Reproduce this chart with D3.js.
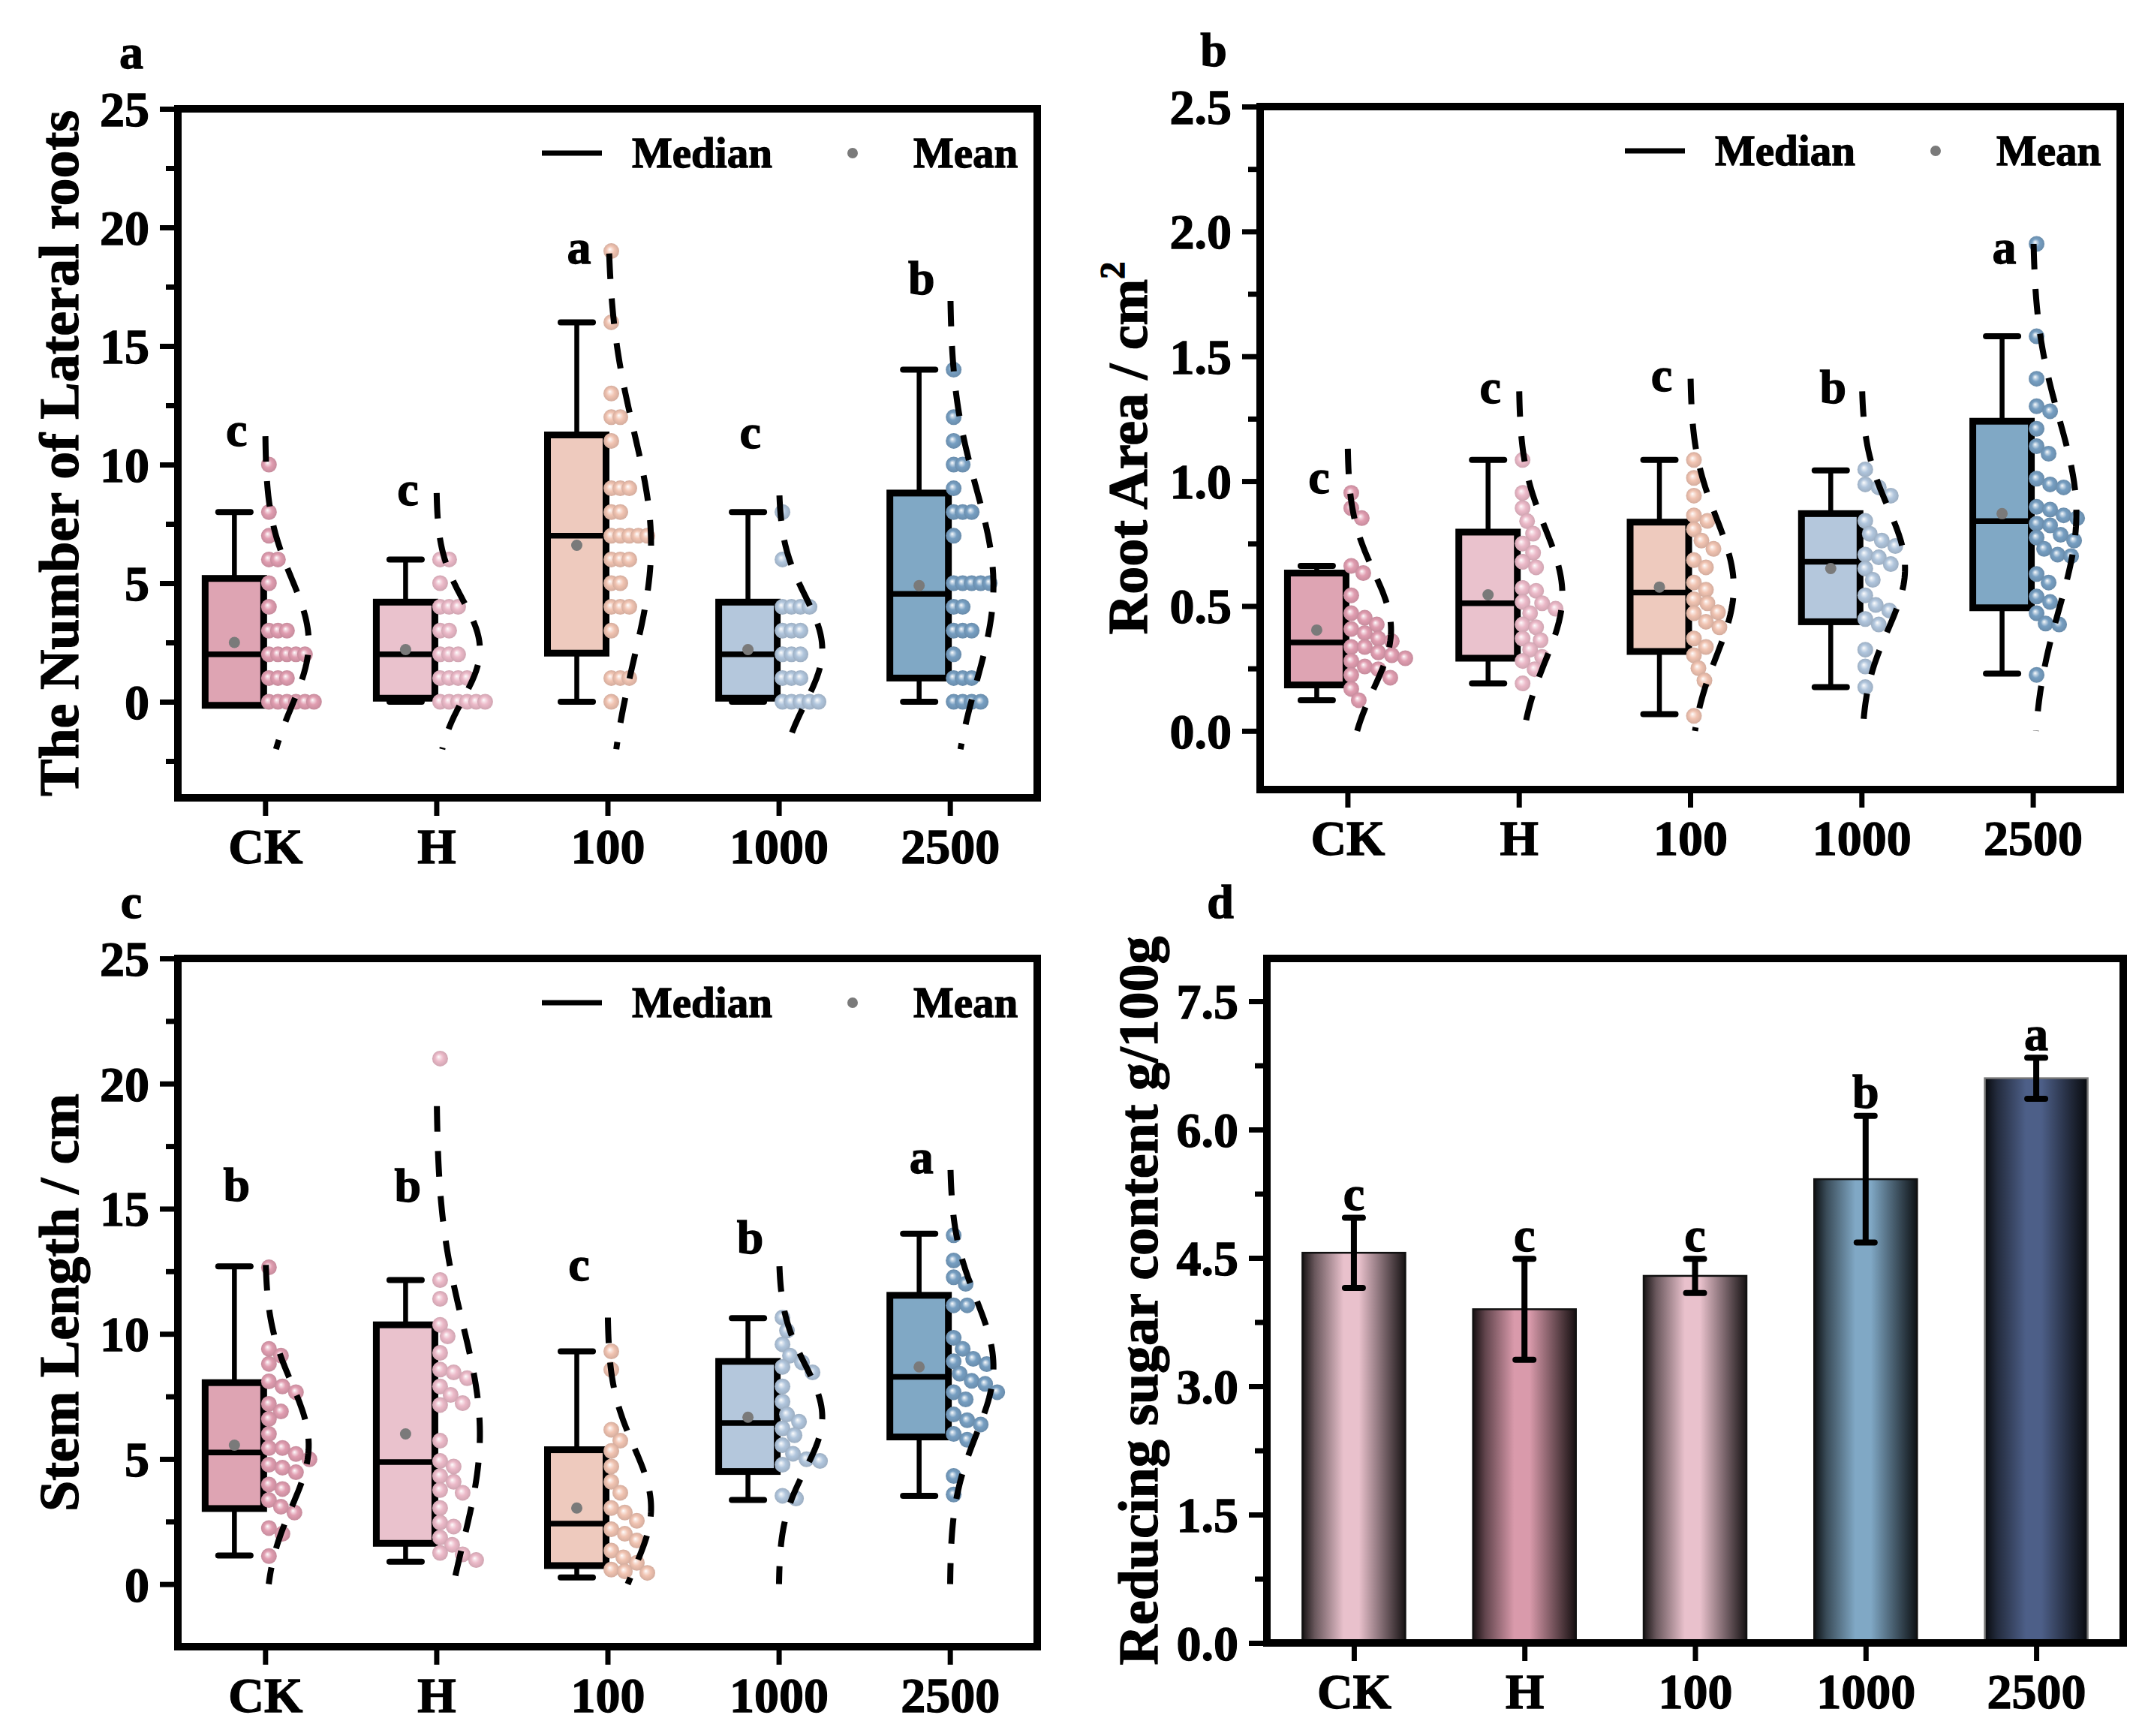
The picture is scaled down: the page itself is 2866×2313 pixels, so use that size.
<!DOCTYPE html>
<html>
<head>
<meta charset="utf-8">
<script src="https://cdn.jsdelivr.net/npm/d3@7"></script>
<style>
  body { margin: 0; background: #fff; }
  text { font-family: "Liberation Serif", "Times New Roman", serif; font-weight: bold; fill: #000;
         stroke: #000; stroke-width: 1.3px; }
</style>
</head>
<body>
<script>
const groups = ["CK", "H", "100", "1000", "2500"];
const boxColors = ["#dea4b3", "#eac2cd", "#eecabe", "#b4c7dc", "#80a8c5"];
const dotColors = ["#e19eb1", "#ecbac9", "#f1c4b2", "#b1c6dd", "#779fc2"];
const barColors = ["#e9c1cc", "#d99aab", "#e9c1cc", "#80a8c5", "#4d5f88"];

// a: number of lateral roots
const lateralPoints = [
  [10, 8, 7, 6, 6, 5, 4, 3, 3, 3, 2, 2, 2, 2, 2, 1, 1, 1, 0, 0, 0, 0, 0, 0],
  [6, 6, 5, 4, 4, 4, 3, 3, 2, 2, 2, 1, 1, 1, 1, 0, 0, 0, 0, 0, 0],
  [19, 16, 13, 12, 12, 11, 9, 9, 9, 8, 8, 7, 7, 7, 7, 7, 6, 6, 6, 5, 5, 4, 4, 4, 3, 1, 1, 1, 0],
  [8, 6, 4, 4, 4, 4, 3, 3, 3, 2, 2, 2, 1, 1, 1, 0, 0, 0, 0, 0],
  [14, 12, 11, 10, 10, 9, 8, 8, 8, 7, 5, 5, 5, 5, 5, 4, 4, 3, 3, 3, 2, 1, 1, 1, 0, 0, 0, 0]
];
// [whisker low, q1, median, q3, whisker high, mean]
const lateralStats = [
  [0, -0.15, 2, 5.2, 8, 2.5],
  [0, 0.15, 2, 4.2, 6, 2.2],
  [0, 2.05, 7, 11.25, 16, 6.6],
  [0, 0.15, 2, 4.2, 8, 2.2],
  [0, 1.0, 4.55, 8.8, 14, 4.9]
];
// normal curve [sd, low end, high end]
const lateralCurve = [[2.7, -2, 11.2], [2.1, -2, 8.8], [4.8, -2, 18.9], [2.27, -2, 8.7], [4.1, -2, 16.9]];
const lateralLetters = ["c", "c", "a", "c", "b"];
const lateralLetterY = [11.4, 8.9, 19.1, 11.3, 17.8];

// b: root area
const areaPoints = [
  [0.953, 0.892, 0.852, 0.661, 0.632, 0.543, 0.471, 0.453, 0.426, 0.408, 0.392, 0.37, 0.359, 0.336, 0.336,
   0.314, 0.303, 0.291, 0.28, 0.258, 0.247, 0.224, 0.213, 0.168, 0.123],
  [1.085, 0.953, 0.892, 0.84, 0.79, 0.75, 0.713, 0.677, 0.655, 0.572, 0.561, 0.516, 0.511, 0.489, 0.471,
   0.426, 0.415, 0.37, 0.363, 0.325, 0.296, 0.28, 0.247, 0.19],
  [1.085, 1.013, 0.942, 0.863, 0.841, 0.807, 0.762, 0.729, 0.684, 0.655, 0.594, 0.565, 0.527, 0.511, 0.475,
   0.471, 0.437, 0.415, 0.37, 0.336, 0.303, 0.251, 0.202, 0.06],
  [1.047, 0.987, 0.975, 0.942, 0.841, 0.789, 0.762, 0.74, 0.706, 0.695, 0.668, 0.65, 0.605, 0.543, 0.504,
   0.482, 0.448, 0.426, 0.325, 0.258, 0.175],
  [1.95, 1.58, 1.41, 1.3, 1.28, 1.21, 1.14, 1.11, 1.01, 0.987, 0.975, 0.897, 0.886, 0.863, 0.852, 0.83,
   0.823, 0.785, 0.774, 0.762, 0.729, 0.706, 0.7, 0.628, 0.594, 0.538, 0.516, 0.471, 0.43, 0.426, 0.224]
];
const areaStats = [
  [0.123, 0.184, 0.354, 0.632, 0.661, 0.404],
  [0.19, 0.291, 0.511, 0.796, 1.085, 0.545],
  [0.067, 0.318, 0.554, 0.836, 1.085, 0.576],
  [0.175, 0.437, 0.677, 0.87, 1.043, 0.65],
  [0.229, 0.493, 0.84, 1.24, 1.58, 0.87]
];
const areaCurve = [[0.233, 0, 1.13], [0.266, 0, 1.36], [0.275, 0, 1.41], [0.246, 0, 1.36], [0.38, 0, 1.95]];
const areaLetters = ["c", "c", "c", "b", "a"];
const areaLetterY = [1.01, 1.37, 1.42, 1.37, 1.93];

// c: stem length
const stemPoints = [
  [12.66, 9.4, 9.13, 8.8, 8.1, 7.9, 7.67, 7.2, 6.9, 6.6, 6.0, 5.44, 5.44, 5.2, 4.99, 4.77, 4.65, 4.47,
   3.98, 3.8, 3.36, 3.09, 2.86, 2.24, 2.01, 1.12],
  [21.0, 12.15, 11.4, 10.36, 9.9, 9.24, 8.57, 8.46, 8.23, 7.9, 7.56, 7.23, 7.16, 5.73, 4.92, 4.7, 4.32,
   4.09, 3.76, 3.65, 3.04, 2.46, 2.3, 1.86, 1.57, 1.25, 1.19, 0.96],
  [9.3, 8.57, 6.17, 5.73, 5.32, 4.7, 4.09, 3.65, 3.04, 2.86, 2.53, 2.19, 2.01, 1.74, 1.34, 1.07, 0.85,
   0.58, 0.51, 0.45],
  [10.65, 10.13, 9.58, 9.13, 8.86, 8.68, 8.46, 7.9, 7.29, 6.78, 6.49, 6.22, 5.95, 5.55, 5.21, 4.99, 4.92,
   4.77, 3.53, 3.42],
  [13.94, 12.93, 12.26, 12.0, 11.14, 11.14, 9.84, 9.4, 9.0, 8.9, 8.79, 8.41, 8.12, 8.0, 7.67, 7.67, 7.38,
   6.78, 6.55, 6.38, 6.0, 5.77, 4.32, 3.58]
];
const stemStats = [
  [1.14, 3.02, 5.26, 8.05, 12.7, 5.55],
  [0.9, 1.63, 4.88, 10.36, 12.15, 6.0],
  [0.27, 0.74, 2.42, 5.37, 9.3, 3.04],
  [3.36, 4.5, 6.44, 8.9, 10.63, 6.67],
  [3.53, 5.88, 8.28, 11.54, 14.0, 8.68]
];
const stemCurve = [[2.48, 0, 12.75], [4.4, 0, 19.1], [2.45, 0, 10.65], [2.1, 0, 12.7], [2.7, 0, 16.55]];
const stemLetters = ["b", "b", "c", "b", "a"];
const stemLetterY = [15.9, 15.85, 12.7, 13.8, 17.0];

// d: reducing sugar
const sugarMean = [4.56, 3.9, 4.29, 5.42, 6.6];
const sugarSd = [0.41, 0.59, 0.2, 0.74, 0.24];
const sugarLetters = ["c", "c", "c", "b", "a"];

const width = 2866;
const height = 2313;

const svg = d3.select("body")
  .append("svg")
  .attr("width", width)
  .attr("height", height)
  .attr("viewBox", [0, 0, width, height]);

svg.append("rect").attr("width", width).attr("height", height).attr("fill", "#fff");

const defs = svg.append("defs");

// shaded ball gradients for the scatter points
dotColors.forEach((c, i) => {
  const g = defs.append("radialGradient")
    .attr("id", "ball" + i)
    .attr("cx", 0.5).attr("cy", 0.5).attr("r", 0.5)
    .attr("fx", 0.4).attr("fy", 0.38);
  g.append("stop").attr("offset", 0).attr("stop-color", "#ffffff");
  g.append("stop").attr("offset", 0.18).attr("stop-color", d3.interpolateRgb(c, "#fff")(0.6));
  g.append("stop").attr("offset", 0.5).attr("stop-color", c);
  g.append("stop").attr("offset", 1).attr("stop-color", d3.interpolateRgb(c, "#000")(0.12));
});

// dark-edged bar gradients
barColors.forEach((c, i) => {
  const dark = d3.interpolateRgb(c, "#000")(0.9);
  const g = defs.append("linearGradient")
    .attr("id", "bar" + i)
    .attr("x1", 0).attr("x2", 1).attr("y1", 0).attr("y2", 0);
  g.append("stop").attr("offset", 0).attr("stop-color", dark);
  g.append("stop").attr("offset", 0.12).attr("stop-color", d3.interpolateRgb(c, "#000")(0.55));
  g.append("stop").attr("offset", 0.4).attr("stop-color", c);
  g.append("stop").attr("offset", 0.55).attr("stop-color", c);
  g.append("stop").attr("offset", 0.85).attr("stop-color", d3.interpolateRgb(c, "#000")(0.6));
  g.append("stop").attr("offset", 1).attr("stop-color", dark);
});

function drawAxes(p) {
  const x = d3.scaleLinear([0.49, 5.51], [p.left, p.right]);
  const y = d3.scaleLinear(p.yDomain, [p.bottom, p.top]);
  const g = svg.append("g");

  const major = d3.range(p.yStart, p.yDomain[1] + 1e-9, p.step);
  const minor = d3.range(p.yStart - p.step / 2, p.yDomain[1], p.step)
    .filter(v => v > p.yDomain[0] && v < p.yDomain[1]);

  g.append("g")
    .attr("transform", `translate(${p.left},0)`)
    .call(d3.axisLeft(y).tickValues(minor).tickSize(16).tickFormat(""))
    .call(s => s.select(".domain").remove())
    .call(s => s.selectAll("line").attr("stroke", "#000").attr("stroke-width", 7));

  g.append("g")
    .attr("transform", `translate(${p.left},0)`)
    .call(d3.axisLeft(y).tickValues(major).tickSize(24).tickPadding(14).tickFormat(d3.format(p.fmt)))
    .call(s => s.select(".domain").remove())
    .call(s => s.selectAll("line").attr("stroke", "#000").attr("stroke-width", 7))
    .call(s => s.selectAll("text").attr("font-size", 66).attr("font-family", null).attr("dy", "0.34em"));

  g.append("g")
    .attr("transform", `translate(0,${p.bottom})`)
    .call(d3.axisBottom(x).tickValues([1, 2, 3, 4, 5]).tickSize(24).tickPadding(16).tickFormat((d, i) => groups[i]))
    .call(s => s.select(".domain").remove())
    .call(s => s.selectAll("line").attr("stroke", "#000").attr("stroke-width", 7))
    .call(s => s.selectAll("text").attr("font-size", 66).attr("font-family", null).attr("dy", "0.71em"));

  const title = svg.append("text")
    .attr("transform", `translate(${p.left - p.titleGap},${(p.top + p.bottom) / 2}) rotate(-90)`)
    .attr("text-anchor", "middle")
    .attr("dy", "0.35em")
    .attr("font-size", 74)
    .text(p.title);
  if (p.sup) {
    title.append("tspan").attr("font-size", 46).attr("dy", -30).text(p.sup);
  }

  svg.append("text")
    .attr("x", p.left - 62)
    .attr("y", p.top - 76)
    .attr("dy", "0.35em")
    .attr("text-anchor", "middle")
    .attr("font-size", 64)
    .text(p.tag);

  return { x, y };
}

function drawFrame(p) {
  svg.append("rect")
    .attr("x", p.left).attr("y", p.top)
    .attr("width", p.right - p.left).attr("height", p.bottom - p.top)
    .attr("fill", "none").attr("stroke", "#000").attr("stroke-width", 10);
}

function boxPanel(p, points, stats, curve, letters, letterY) {
  const { x, y } = drawAxes(p);
  const g = svg.append("g");
  const boxW = 78;
  const capW = 43;
  const peak = 58;

  stats.forEach((s, i) => {
    const [lo, q1, med, q3, hi, mean] = s;
    const cx = x(i + 1) - 41;

    // whiskers
    g.append("line").attr("x1", cx).attr("x2", cx).attr("y1", y(q3)).attr("y2", y(hi))
      .attr("stroke", "#000").attr("stroke-width", 6.5);
    g.append("line").attr("x1", cx).attr("x2", cx).attr("y1", y(q1)).attr("y2", y(lo))
      .attr("stroke", "#000").attr("stroke-width", 6.5);
    g.selectAll(null).data([lo, hi]).join("line")
      .attr("x1", cx - capW / 2).attr("x2", cx + capW / 2)
      .attr("y1", d => y(d)).attr("y2", d => y(d))
      .attr("stroke", "#000").attr("stroke-width", 8).attr("stroke-linecap", "round");

    g.append("rect")
      .attr("x", cx - boxW / 2).attr("y", y(q3))
      .attr("width", boxW).attr("height", y(q1) - y(q3))
      .attr("fill", boxColors[i]).attr("stroke", "#000").attr("stroke-width", 9);

    g.append("line")
      .attr("x1", cx - boxW / 2).attr("x2", cx + boxW / 2)
      .attr("y1", y(med)).attr("y2", y(med))
      .attr("stroke", "#000").attr("stroke-width", 7.5);

    g.append("circle").attr("cx", cx).attr("cy", y(mean)).attr("r", 7.5).attr("fill", "#7a7a7a");

    // one-sided swarm of the raw points
    const placed = [];
    const r = 10.5;
    const minD = p.swarm;
    points[i].forEach(v => {
      const py = y(v);
      let dx = 0;
      while (placed.some(q => Math.hypot(q[0] - dx, q[1] - py) < minD)) dx += 2;
      placed.push([dx, py]);
    });
    g.append("g").selectAll("circle")
      .data(placed)
      .join("circle")
      .attr("cx", d => x(i + 1) + 5 + d[0])
      .attr("cy", d => d[1])
      .attr("r", r)
      .attr("fill", `url(#ball${i})`);

    // normal distribution outline
    const [sd, clo, chi] = curve[i];
    const line = d3.line()
      .x(v => x(i + 1) + peak * Math.exp(-((v - mean) ** 2) / (2 * sd * sd)))
      .y(v => y(v));
    const samples = d3.range(0, 101).map(k => chi - (chi - clo) * k / 100);
    g.append("path")
      .attr("d", line(samples))
      .attr("fill", "none")
      .attr("stroke", "#000")
      .attr("stroke-width", 8)
      .attr("stroke-dasharray", "34 26");

    svg.append("text")
      .attr("x", x(i + 1) - 38)
      .attr("y", y(letterY[i]))
      .attr("dy", "0.3em")
      .attr("text-anchor", "middle")
      .attr("font-size", 64)
      .text(letters[i]);
  });

  // legend
  const ly = p.top + 59;
  svg.append("line")
    .attr("x1", p.right - 660).attr("x2", p.right - 580)
    .attr("y1", ly).attr("y2", ly)
    .attr("stroke", "#000").attr("stroke-width", 7);
  svg.append("text").attr("x", p.right - 540).attr("y", ly).attr("dy", "0.33em")
    .attr("font-size", 57).text("Median");
  svg.append("circle").attr("cx", p.right - 246).attr("cy", ly).attr("r", 7).attr("fill", "#7a7a7a");
  svg.append("text").attr("x", p.right - 165).attr("y", ly).attr("dy", "0.33em")
    .attr("font-size", 57).text("Mean");

  drawFrame(p);
}

function barPanel(p) {
  const { x, y } = drawAxes(p);
  const g = svg.append("g");
  const bw = 137;

  g.selectAll("rect")
    .data(sugarMean)
    .join("rect")
    .attr("x", (d, i) => x(i + 1) - bw / 2)
    .attr("y", d => y(d))
    .attr("width", bw)
    .attr("height", d => y(0) - y(d))
    .attr("fill", (d, i) => `url(#bar${i})`)
    .attr("stroke", (d, i) => i === 4 ? "#777" : "#111")
    .attr("stroke-width", 2.5);

  sugarMean.forEach((m, i) => {
    const cx = x(i + 1);
    const s = sugarSd[i];
    g.append("line").attr("x1", cx).attr("x2", cx).attr("y1", y(m - s)).attr("y2", y(m + s))
      .attr("stroke", "#000").attr("stroke-width", 8);
    g.selectAll(null).data([m - s, m + s]).join("line")
      .attr("x1", cx - 12).attr("x2", cx + 12)
      .attr("y1", d => y(d)).attr("y2", d => y(d))
      .attr("stroke", "#000").attr("stroke-width", 8).attr("stroke-linecap", "round");
    svg.append("text")
      .attr("x", cx)
      .attr("y", y(m + s + 0.26))
      .attr("dy", "0.3em")
      .attr("text-anchor", "middle")
      .attr("font-size", 64)
      .text(sugarLetters[i]);
  });

  drawFrame(p);
}

boxPanel({ left: 237, right: 1382, top: 145, bottom: 1063, yDomain: [-4.05, 25], yStart: 0, step: 5,
  fmt: "d", title: "The Number of Lateral roots", titleGap: 159, tag: "a", swarm: 11 },
  lateralPoints, lateralStats, lateralCurve, lateralLetters, lateralLetterY);

boxPanel({ left: 1679, right: 2825, top: 142, bottom: 1052, yDomain: [-0.235, 2.5], yStart: 0, step: 0.5,
  fmt: ".1f", title: "Root Area / cm", sup: "2", titleGap: 177, tag: "b", swarm: 18 },
  areaPoints, areaStats, areaCurve, areaLetters, areaLetterY);

boxPanel({ left: 237, right: 1382, top: 1277, bottom: 2194, yDomain: [-2.5, 25], yStart: 0, step: 5,
  fmt: "d", title: "Stem Length / cm", titleGap: 159, tag: "c", swarm: 18 },
  stemPoints, stemStats, stemCurve, stemLetters, stemLetterY);

barPanel({ left: 1688, right: 2829, top: 1277, bottom: 2189, yDomain: [0, 8.0], yStart: 0, step: 1.5,
  fmt: ".1f", title: "Reducing sugar content g/100g", titleGap: 172, tag: "d" });
</script>
</body>
</html>
